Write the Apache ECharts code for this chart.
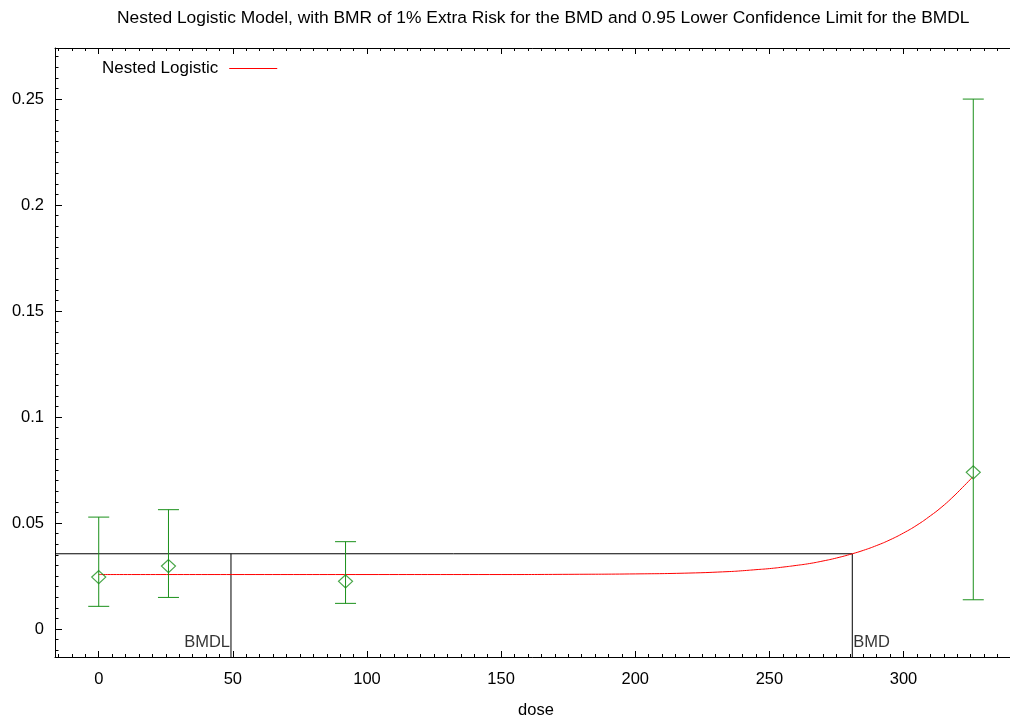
<!DOCTYPE html>
<html>
<head>
<meta charset="utf-8">
<script src="https://cdn.jsdelivr.net/npm/echarts@6/dist/echarts.min.js"></script>
<style>
  html, body { margin: 0; padding: 0; background: #fff; overflow: hidden; }
  #chart { width: 1010px; height: 719px; }
</style>
</head>
<body>
<div id="chart"></div>
<script>
// Observed dose groups: mean response with lower / upper confidence limits
const doses = [0, 26, 92, 326];
const meanResp = [0.0245, 0.0297, 0.0225, 0.0739];
const lowerCL = [0.0107, 0.0149, 0.0121, 0.0138];
const upperCL = [0.0528, 0.0563, 0.0412, 0.25];

// Fitted nested logistic curve
const curveDose = [0, 50, 100, 150, 175, 200, 220, 235, 240, 245, 250, 255, 260, 265, 270, 275, 280.9, 285, 290, 295, 300, 305, 310, 314, 318, 322, 326];
const curveResp = [0.0257, 0.0257, 0.0257, 0.0257, 0.0258, 0.0260, 0.0264, 0.0271, 0.0275, 0.0280, 0.0285, 0.0292, 0.0300, 0.0309, 0.0321, 0.0335, 0.0355, 0.0371, 0.0394, 0.0421, 0.0453, 0.0490, 0.0534, 0.0573, 0.0618, 0.0668, 0.0720];

// Benchmark dose and its lower limit, with the response at the BMD
const bmd = 280.9;
const bmdl = 49.3;
const bmdResp = 0.0355;

// Axis ranges and tick values
const xMin = -16.3, xMax = 342.3;
const yMin = -0.0132, yMax = 0.2741;
const xMajor = [0, 50, 100, 150, 200, 250, 300];
const yMajor = [0, 0.05, 0.1, 0.15, 0.2, 0.25];
const xMinor = [];
for (let v = -15; v <= 340; v += 5) xMinor.push(v);
const yMinor = [];
for (let k = -2; k <= 54; k++) yMinor.push(+(k * 0.005).toFixed(3));

const FONT = 'Liberation Sans, Arial, sans-serif';
const GREEN = '#1a901a';

function xAxisDef(pos, ticks, len, labels, lineShow) {
  return {
    type: 'value', position: pos, min: xMin, max: xMax,
    axisLine: { show: lineShow, onZero: false, lineStyle: { color: '#000', width: 1 } },
    axisTick: { show: true, inside: true, length: len, customValues: ticks, lineStyle: { color: '#000', width: 1 } },
    axisLabel: labels ? {
      show: true, customValues: ticks, margin: 14, color: '#000', fontFamily: FONT, fontSize: 16.5
    } : { show: false },
    splitLine: { show: false }
  };
}
function yAxisDef(pos, ticks, len, labels, lineShow) {
  return {
    type: 'value', position: pos, min: yMin, max: yMax,
    axisLine: { show: lineShow, onZero: false, lineStyle: { color: '#000', width: 1 } },
    axisTick: { show: true, inside: true, length: len, customValues: ticks, lineStyle: { color: '#000', width: 1 } },
    axisLabel: labels ? {
      show: true, customValues: ticks, margin: 11, color: '#000', fontFamily: FONT, fontSize: 16.5,
      formatter: v => String(+(+v).toFixed(3))
    } : { show: false },
    splitLine: { show: false }
  };
}

const xAxes = [
  xAxisDef('bottom', xMajor, 6, true, true),
  xAxisDef('bottom', xMinor, 3, false, false),
  xAxisDef('top', xMajor, 6, false, true),
  xAxisDef('top', xMinor, 3, false, false)
];
xAxes[0].name = 'dose';
xAxes[0].nameLocation = 'middle';
xAxes[0].nameGap = 45;
xAxes[0].nameTextStyle = { color: '#000', fontFamily: FONT, fontSize: 16.5 };

// The right-hand frame edge falls just outside the canvas; only its tick marks show
const yAxes = [
  yAxisDef('left', yMajor, 7, true, true),
  yAxisDef('left', yMinor, 3.5, false, false),
  yAxisDef('right', yMajor, 7, false, false),
  yAxisDef('right', yMinor, 3.5, false, false)
];

const chart = echarts.init(document.getElementById('chart'), null, { renderer: 'canvas' });

chart.setOption({
  animation: false,
  backgroundColor: '#fff',
  title: {
    text: 'Nested Logistic Model, with BMR of 1% Extra Risk for the BMD and 0.95 Lower Confidence Limit for the BMDL',
    left: 117, top: 10, padding: 0,
    textStyle: { color: '#000', fontFamily: FONT, fontSize: 17.4, fontWeight: 'normal' }
  },
  legend: {
    data: ['Nested Logistic'],
    left: 102, top: 60, padding: 0,
    align: 'right',
    icon: 'rect', itemWidth: 48, itemHeight: 1.2,
    textStyle: { color: '#000', fontFamily: FONT, fontSize: 17, padding: [3, 6, 0, 0] }
  },
  grid: { left: 55, top: 48, width: 962, height: 609, containLabel: false, outerBoundsMode: 'none' },
  xAxis: xAxes,
  yAxis: yAxes,
  series: [
    {
      name: 'BMD lines',
      type: 'line',
      silent: true,
      symbol: 'none',
      lineStyle: { color: '#000', width: 1 },
      data: [[xMin, bmdResp], [bmd, bmdResp], [bmd, yMin]],
      z: 2
    },
    {
      name: 'BMDL line',
      type: 'line',
      silent: true,
      symbol: 'none',
      lineStyle: { color: '#000', width: 1 },
      data: [[bmdl, bmdResp], [bmdl, yMin]],
      z: 2
    },
    {
      name: 'Nested Logistic',
      type: 'line',
      symbol: 'none',
      smooth: true,
      itemStyle: { color: '#ff0000' },
      lineStyle: { color: '#ff0000', width: 1 },
      data: curveDose.map((d, i) => [d, curveResp[i]]),
      z: 3
    },
    {
      name: 'CI',
      type: 'custom',
      silent: true,
      data: doses.map((d, i) => [d, lowerCL[i], upperCL[i]]),
      renderItem: function (params, api) {
        const x = api.value(0);
        const lo = api.coord([x, api.value(1)]);
        const hi = api.coord([x, api.value(2)]);
        const half = 10.5;
        const style = { stroke: GREEN, lineWidth: 1, fill: null };
        return {
          type: 'group',
          children: [
            { type: 'line', shape: { x1: hi[0], y1: hi[1], x2: lo[0], y2: lo[1] }, style: style },
            { type: 'line', shape: { x1: hi[0] - half, y1: hi[1], x2: hi[0] + half, y2: hi[1] }, style: style },
            { type: 'line', shape: { x1: lo[0] - half, y1: lo[1], x2: lo[0] + half, y2: lo[1] }, style: style }
          ]
        };
      },
      z: 4
    },
    {
      name: 'Observed',
      type: 'scatter',
      symbol: 'diamond',
      symbolSize: [14, 13],
      itemStyle: { color: 'rgba(0,0,0,0)', borderColor: GREEN, borderWidth: 1.2 },
      data: doses.map((d, i) => [d, meanResp[i]]),
      z: 5
    },
    {
      name: 'Markers',
      type: 'scatter',
      silent: true,
      symbolSize: 0,
      data: [
        { value: [bmdl, -0.0062], label: { show: true, formatter: 'BMDL', position: 'left', distance: 1 } },
        { value: [bmd, -0.0062], label: { show: true, formatter: 'BMD', position: 'right', distance: 1 } }
      ],
      label: { color: '#000', fontFamily: FONT, fontSize: 16.5 },
      z: 6
    }
  ]
});
</script>
</body>
</html>
